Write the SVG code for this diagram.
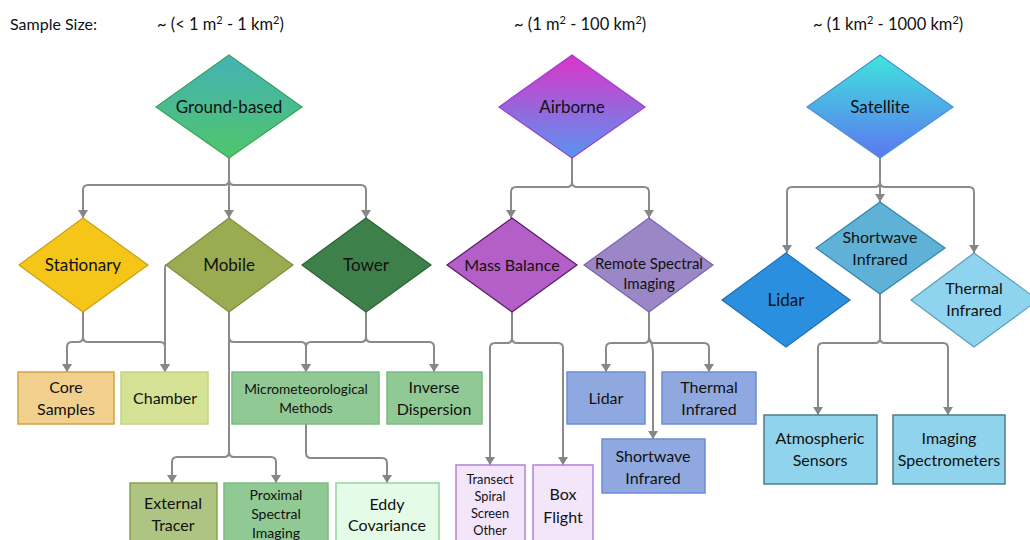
<svg xmlns="http://www.w3.org/2000/svg" width="1030" height="540" viewBox="0 0 1030 540">
<defs>
<linearGradient id="gGround" x1="0" y1="0" x2="0" y2="1"><stop offset="0" stop-color="#45b2b6"/><stop offset="1" stop-color="#4fc56a"/></linearGradient>
<linearGradient id="gAir" x1="0" y1="0" x2="0" y2="1"><stop offset="0" stop-color="#dc34c8"/><stop offset="1" stop-color="#5894ef"/></linearGradient>
<linearGradient id="gSat" x1="0" y1="0" x2="0" y2="1"><stop offset="0" stop-color="#3ee4dc"/><stop offset="1" stop-color="#5d76f0"/></linearGradient>
<marker id="arr" viewBox="0 0 8 10" refX="8" refY="5" markerWidth="8" markerHeight="10" markerUnits="userSpaceOnUse" orient="auto"><path d="M0,0 L8,5 L0,10 z" fill="#868686"/></marker>
</defs>
<style>
text{font-family:Lato,"Liberation Sans",sans-serif;fill:#111;text-anchor:middle}
.hdr{font-size:16.5px;text-anchor:start}
.l17{font-size:17px}
.l16{font-size:16px}
.l15{font-size:15px}
.l14{font-size:14px}
.l13{font-size:13.7px}
.l12{font-size:12.8px}
.sup{font-size:11px}
#connectors path{fill:none;stroke:#8a8a8a;stroke-width:2;marker-end:url(#arr)}
</style>
<rect width="1030" height="540" fill="#ffffff"/>

<g id="header">
<text class="hdr" x="10" y="30" style="font-size:16px">Sample Size:</text>
<text class="hdr" x="157" y="30">~ (&lt; 1 m<tspan class="sup" dy="-6">2</tspan><tspan dy="6"> - 1 km</tspan><tspan class="sup" dy="-6">2</tspan><tspan dy="6">)</tspan></text>
<text class="hdr" x="514" y="30">~ (1 m<tspan class="sup" dy="-6">2</tspan><tspan dy="6"> - 100 km</tspan><tspan class="sup" dy="-6">2</tspan><tspan dy="6">)</tspan></text>
<text class="hdr" x="813" y="30">~ (1 km<tspan class="sup" dy="-6">2</tspan><tspan dy="6"> - 1000 km</tspan><tspan class="sup" dy="-6">2</tspan><tspan dy="6">)</tspan></text>
</g>

<g id="connectors">
<path d="M229,158 V180 Q229,185 224,185 H88 Q83,185 83,190 V218"/>
<path d="M229,158 V218"/>
<path d="M229,158 V180 Q229,185 234,185 H361 Q366,185 366,190 V218"/>
<path d="M83,312 V337 Q83,342 78,342 H72 Q67,342 67,347 V372"/>
<path d="M83,312 V337 Q83,342 88,342 H160 Q165,342 165,347 V372"/>
<path d="M166,265 Q165,265 165,270 V372"/>
<path d="M229,312 V337 Q229,342 234,342 H301 Q306,342 306,347 V372"/>
<path d="M229,312 V452 Q229,457 224,457 H177 Q172,457 172,462 V483"/>
<path d="M229,312 V452 Q229,457 234,457 H271 Q276,457 276,462 V483"/>
<path d="M366,312 V337 Q366,342 361,342 H311 Q306,342 306,347 V372"/>
<path d="M366,312 V337 Q366,342 371,342 H429 Q434,342 434,347 V372"/>
<path d="M306,424 V453 Q306,458 311,458 H382 Q387,458 387,463 V483"/>
<path d="M572,158 V182 Q572,187 567,187 H516 Q511,187 511,192 V218"/>
<path d="M572,158 V182 Q572,187 577,187 H644 Q649,187 649,192 V218"/>
<path d="M512,312 V338 Q512,343 507,343 H495 Q490,343 490,348 V465"/>
<path d="M512,312 V338 Q512,343 517,343 H558 Q563,343 563,348 V465"/>
<path d="M649,312 V338 Q649,343 644,343 H611 Q606,343 606,348 V372"/>
<path d="M649,312 V338 Q649,343 654,343 H704 Q709,343 709,348 V372"/>
<path d="M649,312 V338 Q653,345 653,353 V439"/>
<path d="M880,158 V182 Q880,187 875,187 H792 Q787,187 787,192 V253"/>
<path d="M880,158 V202"/>
<path d="M880,158 V182 Q880,187 885,187 H969 Q974,187 974,192 V253"/>
<path d="M880,294 V338 Q880,343 875,343 H823 Q818,343 818,348 V415"/>
<path d="M880,294 V338 Q880,343 885,343 H943 Q948,343 948,348 V415"/>
</g>

<g id="ground-based">
<polygon points="229,55 302,107 229,158 156,107" fill="url(#gGround)" stroke="#3aa35a" stroke-width="1.2"/>
<text class="l17" x="229" y="113">Ground-based</text>
</g>
<g id="airborne">
<polygon points="572,55 645,107 572,158 499,107" fill="url(#gAir)" stroke="#9b3fd0" stroke-width="1.2"/>
<text class="l17" x="572" y="113">Airborne</text>
</g>
<g id="satellite">
<polygon points="880,55 953,107 880,158 807,107" fill="url(#gSat)" stroke="#4a90d8" stroke-width="1.2"/>
<text class="l17" x="880" y="113">Satellite</text>
</g>

<g id="stationary">
<polygon points="83,218 148,265 83,312 19,265" fill="#f5c518" stroke="#c9a018" stroke-width="1.2"/>
<text class="l17" x="83" y="271">Stationary</text>
</g>
<g id="mobile">
<polygon points="229,218 293,265 229,312 166,265" fill="#9aab52" stroke="#7d8f3c" stroke-width="1.2"/>
<text class="l17" x="229" y="271">Mobile</text>
</g>
<g id="tower">
<polygon points="366,218 431,265 366,312 302,265" fill="#3e804a" stroke="#2c6236" stroke-width="1.2"/>
<text class="l17" x="366" y="271">Tower</text>
</g>
<g id="mass-balance">
<polygon points="512,218 577,265 512,312 447,265" fill="#b45ec8" stroke="#5a1868" stroke-width="1.2"/>
<text class="l16" x="512" y="271">Mass Balance</text>
</g>
<g id="remote-spectral">
<polygon points="649,218 713,265 649,312 584,265" fill="#9b86c6" stroke="#7c62b8" stroke-width="1.2"/>
<text class="l15" x="649" y="269">Remote Spectral</text>
<text class="l15" x="649" y="289">Imaging</text>
</g>
<g id="sat-shortwave">
<polygon points="880,202 945,248 880,294 816,248" fill="#5fb2d6" stroke="#2f86aa" stroke-width="1.2"/>
<text class="l16" x="880" y="243">Shortwave</text>
<text class="l16" x="880" y="265">Infrared</text>
</g>
<g id="sat-lidar">
<polygon points="786,253 850,300 786,347 722,300" fill="#2b8fe0" stroke="#1e6fb4" stroke-width="1.2"/>
<text class="l17" x="786" y="306">Lidar</text>
</g>
<g id="sat-thermal">
<polygon points="974,253 1038,300 974,347 911,300" fill="#8fd4ee" stroke="#5a9eb8" stroke-width="1.2"/>
<text class="l16" x="974" y="294">Thermal</text>
<text class="l16" x="974" y="316">Infrared</text>
</g>

<g id="core-samples">
<rect x="18" y="372" width="96" height="52" fill="#f0d08c" stroke="#d3a247" stroke-width="1.5"/>
<text class="l16" x="66" y="393">Core</text>
<text class="l16" x="66" y="415">Samples</text>
</g>
<g id="chamber">
<rect x="121" y="372" width="87" height="52" fill="#d5e296" stroke="#c3d482" stroke-width="1.5"/>
<text class="l16" x="165" y="404">Chamber</text>
</g>
<g id="micrometeorological">
<rect x="232" y="372" width="147" height="52" fill="#91c994" stroke="#7cbb80" stroke-width="1.5"/>
<text class="l13" x="306" y="394">Micrometeorological</text>
<text class="l13" x="306" y="413">Methods</text>
</g>
<g id="inverse-dispersion">
<rect x="387" y="372" width="95" height="52" fill="#91c994" stroke="#7cbb80" stroke-width="1.5"/>
<text class="l16" x="434" y="393">Inverse</text>
<text class="l16" x="434" y="415">Dispersion</text>
</g>
<g id="external-tracer">
<rect x="130" y="483" width="87" height="70" fill="#adc483" stroke="#86a448" stroke-width="1.5"/>
<text class="l16" x="173" y="509">External</text>
<text class="l16" x="173" y="531">Tracer</text>
</g>
<g id="proximal-spectral">
<rect x="224" y="483" width="104" height="70" fill="#91c994" stroke="#7cbb80" stroke-width="1.5"/>
<text class="l14" x="276" y="500">Proximal</text>
<text class="l14" x="276" y="519">Spectral</text>
<text class="l14" x="276" y="538">Imaging</text>
</g>
<g id="eddy-covariance">
<rect x="336" y="483" width="103" height="70" fill="#e4fbe7" stroke="#94d69d" stroke-width="1.5"/>
<text class="l16" x="387" y="510">Eddy</text>
<text class="l16" x="387" y="531">Covariance</text>
</g>
<g id="transect">
<rect x="456" y="465" width="69" height="85" fill="#f3e6fb" stroke="#b481d8" stroke-width="1.5"/>
<text class="l12" x="490" y="484">Transect</text>
<text class="l12" x="490" y="501">Spiral</text>
<text class="l12" x="490" y="518">Screen</text>
<text class="l12" x="490" y="535">Other</text>
</g>
<g id="box-flight">
<rect x="533" y="465" width="60" height="85" fill="#f3e6fb" stroke="#b481d8" stroke-width="1.5"/>
<text class="l16" x="563" y="500">Box</text>
<text class="l16" x="563" y="523">Flight</text>
</g>
<g id="air-lidar">
<rect x="567" y="372" width="78" height="52" fill="#8fa9e0" stroke="#6b8cd8" stroke-width="1.5"/>
<text class="l16" x="606" y="404">Lidar</text>
</g>
<g id="air-thermal">
<rect x="662" y="372" width="94" height="52" fill="#8fa9e0" stroke="#6b8cd8" stroke-width="1.5"/>
<text class="l16" x="709" y="393">Thermal</text>
<text class="l16" x="709" y="415">Infrared</text>
</g>
<g id="air-shortwave">
<rect x="602" y="439" width="103" height="54" fill="#8fa9e0" stroke="#6b8cd8" stroke-width="1.5"/>
<text class="l16" x="653" y="462">Shortwave</text>
<text class="l16" x="653" y="484">Infrared</text>
</g>
<g id="atmospheric-sensors">
<rect x="764" y="415" width="113" height="69" fill="#8fd3ec" stroke="#4b7e8e" stroke-width="1.5"/>
<text class="l16" x="820" y="444">Atmospheric</text>
<text class="l16" x="820" y="466">Sensors</text>
</g>
<g id="imaging-spectrometers">
<rect x="893" y="415" width="112" height="69" fill="#8fd3ec" stroke="#4b7e8e" stroke-width="1.5"/>
<text class="l16" x="949" y="444">Imaging</text>
<text class="l16" x="949" y="466">Spectrometers</text>
</g>
</svg>
